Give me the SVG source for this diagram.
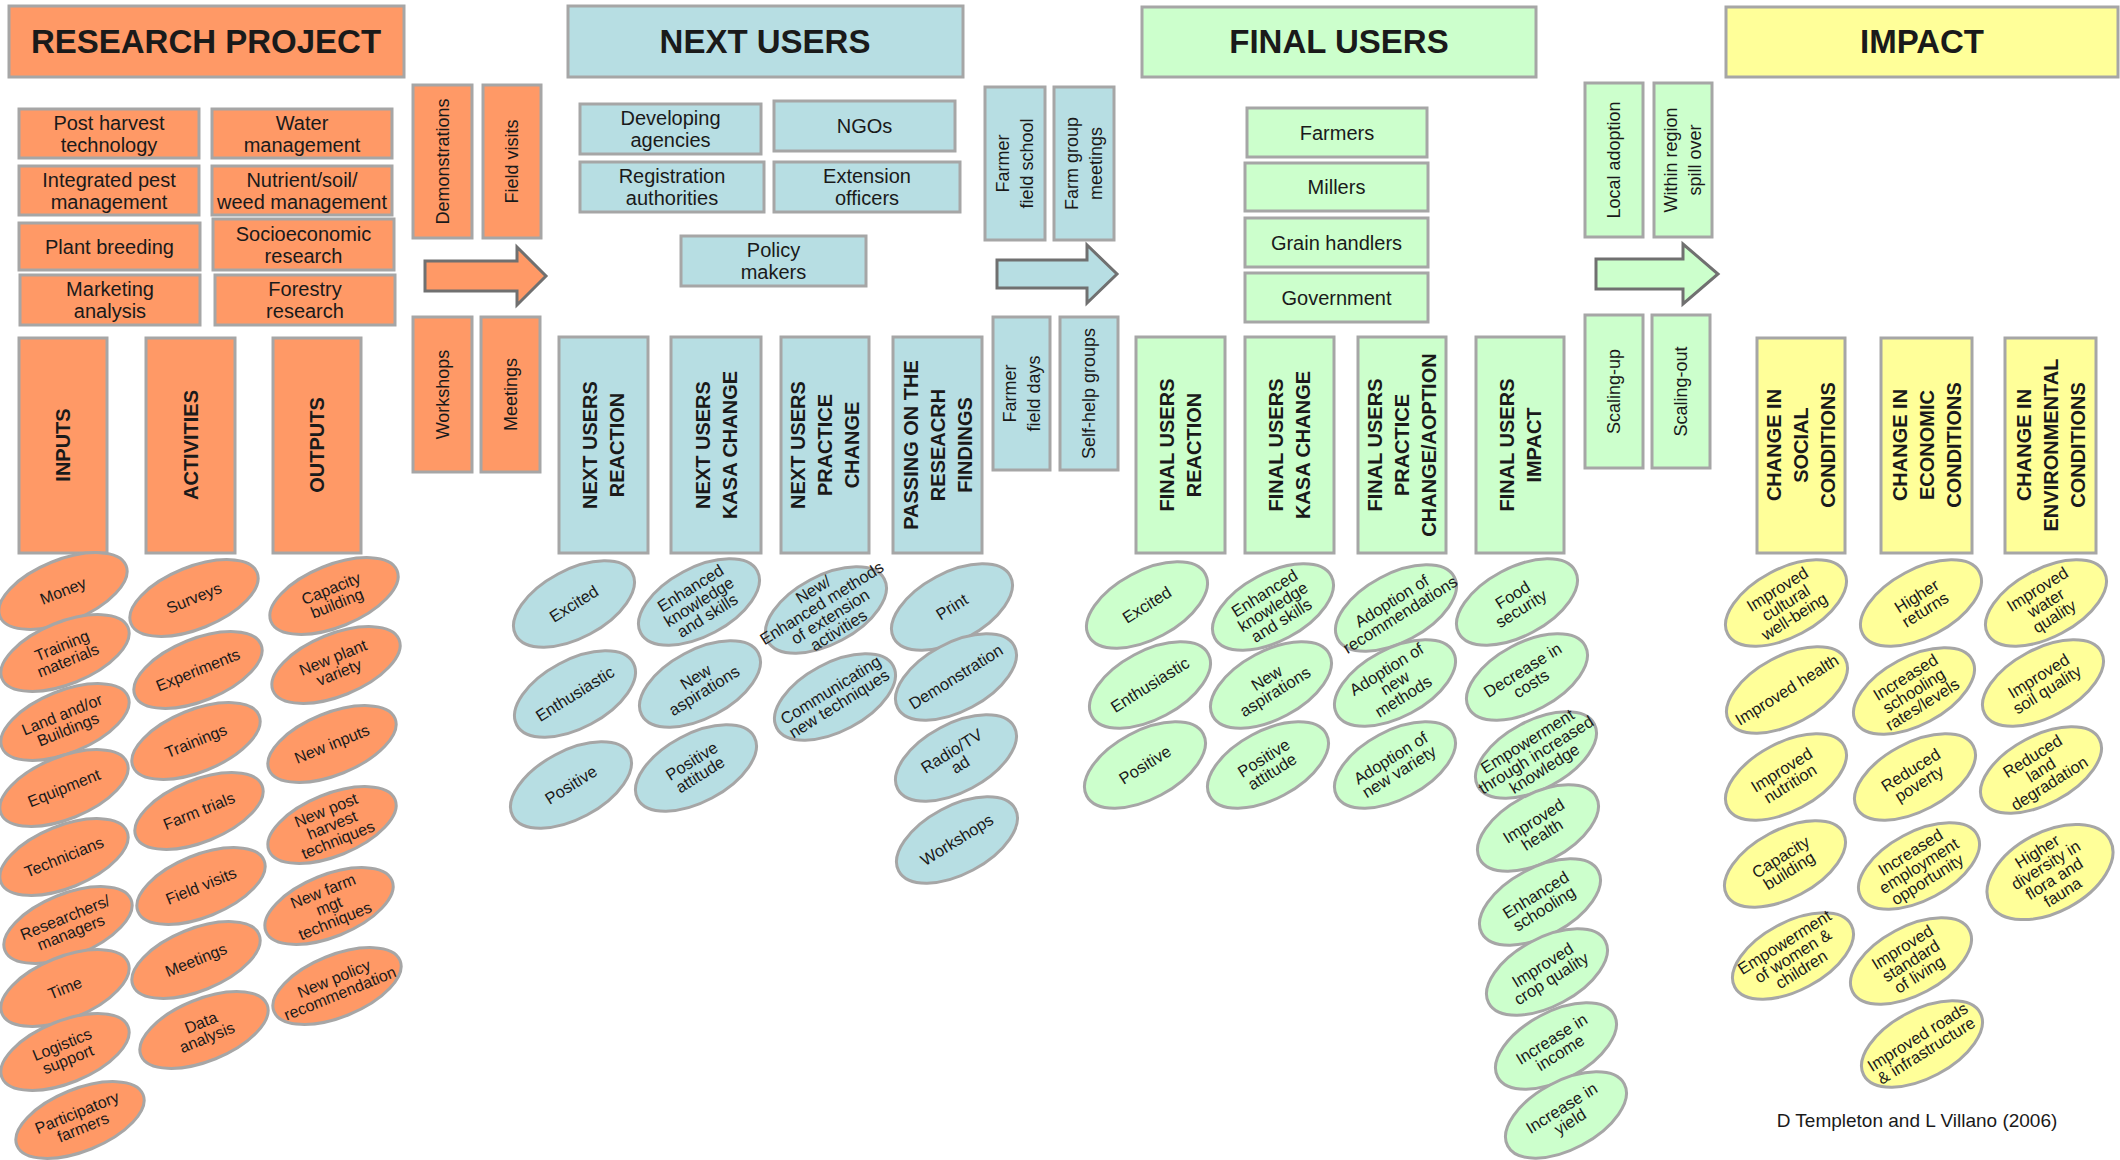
<svg xmlns="http://www.w3.org/2000/svg" width="2120" height="1160" viewBox="0 0 2120 1160">
<style>
.o{fill:#FF9966}.b{fill:#B7DEE3}.g{fill:#CCFFCC}.y{fill:#FFFF99}
rect,ellipse{stroke:#A6A6A6;stroke-width:3}
text{font-family:"Liberation Sans",Arial,sans-serif;fill:#1A1A1A;text-anchor:middle}
.h{font-size:33px;font-weight:bold}
.s{font-size:20px}
.v{font-size:18px}
.V{font-size:20px;font-weight:bold}
.e{font-size:16px}
.f{font-size:16.5px}
.arr{stroke:#707070;stroke-width:3}
</style>

<!-- Headers -->
<g id="h-research"><rect class="o" x="9" y="6" width="395" height="71"/><text class="h" x="206" y="53">RESEARCH PROJECT</text></g>
<g id="h-next"><rect class="b" x="568" y="6" width="395" height="71"/><text class="h" x="765" y="53">NEXT USERS</text></g>
<g id="h-final"><rect class="g" x="1142" y="7" width="394" height="70"/><text class="h" x="1339" y="53">FINAL USERS</text></g>
<g id="h-impact"><rect class="y" x="1726" y="7" width="392" height="70"/><text class="h" x="1922" y="53">IMPACT</text></g>

<!-- Research project small boxes -->
<g id="rp1"><rect class="o" x="19" y="109" width="180" height="49"/><text class="s"><tspan x="109" y="129.5">Post harvest</tspan><tspan x="109" y="151.5">technology</tspan></text></g>
<g id="rp2"><rect class="o" x="212" y="109" width="180" height="49"/><text class="s"><tspan x="302" y="129.5">Water</tspan><tspan x="302" y="151.5">management</tspan></text></g>
<g id="rp3"><rect class="o" x="19" y="166" width="180" height="49"/><text class="s"><tspan x="109" y="186.5">Integrated pest</tspan><tspan x="109" y="208.5">management</tspan></text></g>
<g id="rp4"><rect class="o" x="212" y="166" width="180" height="49"/><text class="s"><tspan x="302" y="186.5">Nutrient/soil/</tspan><tspan x="302" y="208.5">weed management</tspan></text></g>
<g id="rp5"><rect class="o" x="19" y="223" width="181" height="47"/><text class="s" x="109.5" y="253.5">Plant breeding</text></g>
<g id="rp6"><rect class="o" x="213" y="219" width="181" height="51"/><text class="s"><tspan x="303.5" y="240.5">Socioeconomic</tspan><tspan x="303.5" y="262.5">research</tspan></text></g>
<g id="rp7"><rect class="o" x="20" y="275" width="180" height="50"/><text class="s"><tspan x="110" y="296">Marketing</tspan><tspan x="110" y="318">analysis</tspan></text></g>
<g id="rp8"><rect class="o" x="215" y="275" width="180" height="50"/><text class="s"><tspan x="305" y="296">Forestry</tspan><tspan x="305" y="318">research</tspan></text></g>

<!-- Orange vertical pathway boxes -->
<g id="ov1"><rect class="o" x="413" y="85" width="59" height="153"/><text class="v" transform="translate(442.5 161.5) rotate(-90)" y="6">Demonstrations</text></g>
<g id="ov2"><rect class="o" x="483" y="85" width="58" height="153"/><text class="v" transform="translate(512 161.5) rotate(-90)" y="6">Field visits</text></g>
<g id="ov3"><rect class="o" x="413" y="317" width="59" height="155"/><text class="v" transform="translate(442.5 394.5) rotate(-90)" y="6">Workshops</text></g>
<g id="ov4"><rect class="o" x="481" y="317" width="59" height="155"/><text class="v" transform="translate(510.5 394.5) rotate(-90)" y="6">Meetings</text></g>

<!-- Next users small boxes -->
<g id="nu1"><rect class="b" x="580" y="104" width="181" height="50"/><text class="s"><tspan x="670.5" y="125">Developing</tspan><tspan x="670.5" y="147">agencies</tspan></text></g>
<g id="nu2"><rect class="b" x="774" y="101" width="181" height="50"/><text class="s" x="864.5" y="133">NGOs</text></g>
<g id="nu3"><rect class="b" x="580" y="162" width="184" height="50"/><text class="s"><tspan x="672" y="183">Registration</tspan><tspan x="672" y="205">authorities</tspan></text></g>
<g id="nu4"><rect class="b" x="774" y="162" width="186" height="50"/><text class="s"><tspan x="867" y="183">Extension</tspan><tspan x="867" y="205">officers</tspan></text></g>
<g id="nu5"><rect class="b" x="681" y="236" width="185" height="50"/><text class="s"><tspan x="773.5" y="257">Policy</tspan><tspan x="773.5" y="279">makers</tspan></text></g>

<!-- Blue vertical pathway boxes -->
<g id="bv1"><rect class="b" x="985" y="87" width="60" height="153"/><text class="v" transform="translate(1015 163.5) rotate(-90)"><tspan x="0" y="-6">Farmer</tspan><tspan x="0" y="18">field school</tspan></text></g>
<g id="bv2"><rect class="b" x="1054" y="87" width="60" height="153"/><text class="v" transform="translate(1084 163.5) rotate(-90)"><tspan x="0" y="-6">Farm group</tspan><tspan x="0" y="18">meetings</tspan></text></g>
<g id="bv3"><rect class="b" x="993" y="317" width="57" height="153"/><text class="v" transform="translate(1021.5 393.5) rotate(-90)"><tspan x="0" y="-6">Farmer</tspan><tspan x="0" y="18">field days</tspan></text></g>
<g id="bv4"><rect class="b" x="1060" y="317" width="58" height="153"/><text class="v" transform="translate(1089 393.5) rotate(-90)" y="6">Self-help groups</text></g>

<!-- Final users small boxes -->
<g id="fu1"><rect class="g" x="1247" y="108" width="180" height="49"/><text class="s" x="1337" y="139.5">Farmers</text></g>
<g id="fu2"><rect class="g" x="1245" y="163" width="183" height="48"/><text class="s" x="1336.5" y="194">Millers</text></g>
<g id="fu3"><rect class="g" x="1245" y="218" width="183" height="49"/><text class="s" x="1336.5" y="249.5">Grain handlers</text></g>
<g id="fu4"><rect class="g" x="1245" y="273" width="183" height="49"/><text class="s" x="1336.5" y="304.5">Government</text></g>

<!-- Green vertical pathway boxes -->
<g id="gv1"><rect class="g" x="1585" y="83" width="58" height="154"/><text class="v" transform="translate(1614 160) rotate(-90)" y="6">Local adoption</text></g>
<g id="gv2"><rect class="g" x="1654" y="83" width="58" height="154"/><text class="v" transform="translate(1683 160) rotate(-90)"><tspan x="0" y="-6">Within region</tspan><tspan x="0" y="18">spill over</tspan></text></g>
<g id="gv3"><rect class="g" x="1585" y="315" width="58" height="153"/><text class="v" transform="translate(1614 391.5) rotate(-90)" y="6">Scaling-up</text></g>
<g id="gv4"><rect class="g" x="1652" y="315" width="58" height="153"/><text class="v" transform="translate(1681 391.5) rotate(-90)" y="6">Scaling-out</text></g>

<!-- Big vertical category boxes -->
<g id="c-inputs"><rect class="o" x="19" y="338" width="88" height="215"/><text class="V" transform="translate(63 445) rotate(-90)" y="7">INPUTS</text></g>
<g id="c-activities"><rect class="o" x="146" y="338" width="89" height="215"/><text class="V" transform="translate(190.5 445) rotate(-90)" y="7">ACTIVITIES</text></g>
<g id="c-outputs"><rect class="o" x="273" y="338" width="88" height="215"/><text class="V" transform="translate(317 445) rotate(-90)" y="7">OUTPUTS</text></g>

<g id="c-nu-reaction"><rect class="b" x="559" y="337" width="89" height="216"/><text class="V" transform="translate(603.5 445) rotate(-90)"><tspan x="0" y="-6.5">NEXT USERS</tspan><tspan x="0" y="20.5">REACTION</tspan></text></g>
<g id="c-nu-kasa"><rect class="b" x="671" y="337" width="90" height="216"/><text class="V" transform="translate(716 445) rotate(-90)"><tspan x="0" y="-6.5">NEXT USERS</tspan><tspan x="0" y="20.5">KASA CHANGE</tspan></text></g>
<g id="c-nu-practice"><rect class="b" x="781" y="337" width="88" height="216"/><text class="V" transform="translate(825 445) rotate(-90)"><tspan x="0" y="-20">NEXT USERS</tspan><tspan x="0" y="7">PRACTICE</tspan><tspan x="0" y="34">CHANGE</tspan></text></g>
<g id="c-nu-passing"><rect class="b" x="893" y="337" width="89" height="216"/><text class="V" transform="translate(937.5 445) rotate(-90)"><tspan x="0" y="-20">PASSING ON THE</tspan><tspan x="0" y="7">RESEACRH</tspan><tspan x="0" y="34">FINDINGS</tspan></text></g>

<g id="c-fu-reaction"><rect class="g" x="1136" y="337" width="89" height="216"/><text class="V" transform="translate(1180.5 445) rotate(-90)"><tspan x="0" y="-6.5">FINAL USERS</tspan><tspan x="0" y="20.5">REACTION</tspan></text></g>
<g id="c-fu-kasa"><rect class="g" x="1245" y="337" width="89" height="216"/><text class="V" transform="translate(1289.5 445) rotate(-90)"><tspan x="0" y="-6.5">FINAL USERS</tspan><tspan x="0" y="20.5">KASA CHANGE</tspan></text></g>
<g id="c-fu-practice"><rect class="g" x="1358" y="337" width="88" height="216"/><text class="V" transform="translate(1402 445) rotate(-90)"><tspan x="0" y="-20">FINAL USERS</tspan><tspan x="0" y="7">PRACTICE</tspan><tspan x="0" y="34">CHANGE/AOPTION</tspan></text></g>
<g id="c-fu-impact"><rect class="g" x="1476" y="337" width="88" height="216"/><text class="V" transform="translate(1520 445) rotate(-90)"><tspan x="0" y="-6.5">FINAL USERS</tspan><tspan x="0" y="20.5">IMPACT</tspan></text></g>

<g id="c-social"><rect class="y" x="1757" y="338" width="88" height="215"/><text class="V" transform="translate(1801 445) rotate(-90)"><tspan x="0" y="-20">CHANGE IN</tspan><tspan x="0" y="7">SOCIAL</tspan><tspan x="0" y="34">CONDITIONS</tspan></text></g>
<g id="c-economic"><rect class="y" x="1881" y="338" width="91" height="215"/><text class="V" transform="translate(1926.5 445) rotate(-90)"><tspan x="0" y="-20">CHANGE IN</tspan><tspan x="0" y="7">ECONOMIC</tspan><tspan x="0" y="34">CONDITIONS</tspan></text></g>
<g id="c-environmental"><rect class="y" x="2005" y="338" width="91" height="215"/><text class="V" transform="translate(2050.5 445) rotate(-90)"><tspan x="0" y="-20">CHANGE IN</tspan><tspan x="0" y="7">ENVIRONMENTAL</tspan><tspan x="0" y="34">CONDITIONS</tspan></text></g>

<!-- Orange ellipses: inputs -->
<g id="in1" transform="translate(63 591) rotate(-22)"><ellipse class="o" rx="68" ry="31"/><text class="e" y="5.5">Money</text></g>
<g id="in2" transform="translate(65 653) rotate(-22)"><ellipse class="o" rx="68" ry="31"/><text class="e"><tspan x="0" y="-2.5">Training</tspan><tspan x="0" y="13.5">materials</tspan></text></g>
<g id="in3" transform="translate(65 722) rotate(-22)"><ellipse class="o" rx="68" ry="31"/><text class="e"><tspan x="0" y="-2.5">Land and/or</tspan><tspan x="0" y="13.5">Buildings</tspan></text></g>
<g id="in4" transform="translate(64 788) rotate(-22)"><ellipse class="o" rx="68" ry="31"/><text class="e" y="5.5">Equipment</text></g>
<g id="in5" transform="translate(64 857) rotate(-22)"><ellipse class="o" rx="68" ry="31"/><text class="e" y="5.5">Technicians</text></g>
<g id="in6" transform="translate(68 925) rotate(-22)"><ellipse class="o" rx="68" ry="31"/><text class="e"><tspan x="0" y="-2.5">Researchers/</tspan><tspan x="0" y="13.5">managers</tspan></text></g>
<g id="in7" transform="translate(65 988) rotate(-22)"><ellipse class="o" rx="68" ry="31"/><text class="e" y="5.5">Time</text></g>
<g id="in8" transform="translate(65 1052) rotate(-22)"><ellipse class="o" rx="68" ry="31"/><text class="e"><tspan x="0" y="-2.5">Logistics</tspan><tspan x="0" y="13.5">support</tspan></text></g>
<g id="in9" transform="translate(80 1120) rotate(-22)"><ellipse class="o" rx="68" ry="31"/><text class="e"><tspan x="0" y="-2.5">Participatory</tspan><tspan x="0" y="13.5">farmers</tspan></text></g>

<!-- Orange ellipses: activities -->
<g id="ac1" transform="translate(194 598) rotate(-22)"><ellipse class="o" rx="68" ry="31"/><text class="e" y="5.5">Surveys</text></g>
<g id="ac2" transform="translate(198 670) rotate(-22)"><ellipse class="o" rx="68" ry="31"/><text class="e" y="5.5">Experiments</text></g>
<g id="ac3" transform="translate(196 741) rotate(-22)"><ellipse class="o" rx="68" ry="31"/><text class="e" y="5.5">Trainings</text></g>
<g id="ac4" transform="translate(199 811) rotate(-22)"><ellipse class="o" rx="68" ry="31"/><text class="e" y="5.5">Farm trials</text></g>
<g id="ac5" transform="translate(201 886) rotate(-22)"><ellipse class="o" rx="68" ry="31"/><text class="e" y="5.5">Field visits</text></g>
<g id="ac6" transform="translate(196 960) rotate(-22)"><ellipse class="o" rx="68" ry="31"/><text class="e" y="5.5">Meetings</text></g>
<g id="ac7" transform="translate(204 1030) rotate(-22)"><ellipse class="o" rx="68" ry="31"/><text class="e"><tspan x="0" y="-2.5">Data</tspan><tspan x="0" y="13.5">analysis</tspan></text></g>

<!-- Orange ellipses: outputs -->
<g id="ou1" transform="translate(334 596) rotate(-22)"><ellipse class="o" rx="68" ry="31"/><text class="e"><tspan x="0" y="-2.5">Capacity</tspan><tspan x="0" y="13.5">building</tspan></text></g>
<g id="ou2" transform="translate(336 665) rotate(-22)"><ellipse class="o" rx="68" ry="31"/><text class="e"><tspan x="0" y="-2.5">New plant</tspan><tspan x="0" y="13.5">variety</tspan></text></g>
<g id="ou3" transform="translate(332 744) rotate(-22)"><ellipse class="o" rx="68" ry="31"/><text class="e" y="5.5">New inputs</text></g>
<g id="ou4" transform="translate(332 825) rotate(-22)"><ellipse class="o" rx="68" ry="31"/><text class="e"><tspan x="0" y="-10.5">New post</tspan><tspan x="0" y="5.5">harvest</tspan><tspan x="0" y="21.5">techniques</tspan></text></g>
<g id="ou5" transform="translate(329 906) rotate(-22)"><ellipse class="o" rx="68" ry="31"/><text class="e"><tspan x="0" y="-10.5">New farm</tspan><tspan x="0" y="5.5">mgt</tspan><tspan x="0" y="21.5">techniques</tspan></text></g>
<g id="ou6" transform="translate(337 986) rotate(-22)"><ellipse class="o" rx="68" ry="31"/><text class="e"><tspan x="0" y="-2.5">New policy</tspan><tspan x="0" y="13.5">recommendation</tspan></text></g>

<!-- Blue ellipses -->
<g id="nr1" transform="translate(574 604) rotate(-28)"><ellipse class="b" rx="66" ry="34"/><text class="f" transform="rotate(-4)" y="5.5">Excited</text></g>
<g id="nr2" transform="translate(575 694) rotate(-28)"><ellipse class="b" rx="66" ry="34"/><text class="f" transform="rotate(-4)" y="5.5">Enthusiastic</text></g>
<g id="nr3" transform="translate(571 785) rotate(-28)"><ellipse class="b" rx="66" ry="34"/><text class="f" transform="rotate(-4)" y="5.5">Positive</text></g>
<g id="nk1" transform="translate(699 602) rotate(-28)"><ellipse class="b" rx="66" ry="34"/><text class="f" transform="rotate(-4)"><tspan x="0" y="-10.5">Enhanced</tspan><tspan x="0" y="5.5">knowledge</tspan><tspan x="0" y="21.5">and skills</tspan></text></g>
<g id="nk2" transform="translate(700 684) rotate(-28)"><ellipse class="b" rx="66" ry="34"/><text class="f" transform="rotate(-4)"><tspan x="0" y="-2.5">New</tspan><tspan x="0" y="13.5">aspirations</tspan></text></g>
<g id="nk3" transform="translate(696 768) rotate(-28)"><ellipse class="b" rx="66" ry="34"/><text class="f" transform="rotate(-4)"><tspan x="0" y="-2.5">Positive</tspan><tspan x="0" y="13.5">attitude</tspan></text></g>
<g id="np1" transform="translate(826 610) rotate(-28)"><ellipse class="b" rx="66" ry="34"/><text class="f" transform="rotate(-4)"><tspan x="0" y="-18.5">New/</tspan><tspan x="0" y="-2.5">Enhanced methods</tspan><tspan x="0" y="13.5">of extension</tspan><tspan x="0" y="29.5">activities</tspan></text></g>
<g id="np2" transform="translate(835 697) rotate(-28)"><ellipse class="b" rx="66" ry="34"/><text class="f" transform="rotate(-4)"><tspan x="0" y="-2.5">Communicating</tspan><tspan x="0" y="13.5">new techniques</tspan></text></g>
<g id="nf1" transform="translate(952 607) rotate(-28)"><ellipse class="b" rx="66" ry="34"/><text class="f" transform="rotate(-4)" y="5.5">Print</text></g>
<g id="nf2" transform="translate(956 677) rotate(-28)"><ellipse class="b" rx="66" ry="34"/><text class="f" transform="rotate(-4)" y="5.5">Demonstration</text></g>
<g id="nf3" transform="translate(956 758) rotate(-28)"><ellipse class="b" rx="66" ry="34"/><text class="f" transform="rotate(-4)"><tspan x="0" y="-2.5">Radio/TV</tspan><tspan x="0" y="13.5">ad</tspan></text></g>
<g id="nf4" transform="translate(957 840) rotate(-28)"><ellipse class="b" rx="66" ry="34"/><text class="f" transform="rotate(-4)" y="5.5">Workshops</text></g>

<!-- Green ellipses -->
<g id="fr1" transform="translate(1147 605) rotate(-28)"><ellipse class="g" rx="66" ry="34"/><text class="f" transform="rotate(-4)" y="5.5">Excited</text></g>
<g id="fr2" transform="translate(1150 685) rotate(-28)"><ellipse class="g" rx="66" ry="34"/><text class="f" transform="rotate(-4)" y="5.5">Enthusiastic</text></g>
<g id="fr3" transform="translate(1145 765) rotate(-28)"><ellipse class="g" rx="66" ry="34"/><text class="f" transform="rotate(-4)" y="5.5">Positive</text></g>
<g id="fk1" transform="translate(1273 607) rotate(-28)"><ellipse class="g" rx="66" ry="34"/><text class="f" transform="rotate(-4)"><tspan x="0" y="-10.5">Enhanced</tspan><tspan x="0" y="5.5">knowledge</tspan><tspan x="0" y="21.5">and skills</tspan></text></g>
<g id="fk2" transform="translate(1271 685) rotate(-28)"><ellipse class="g" rx="66" ry="34"/><text class="f" transform="rotate(-4)"><tspan x="0" y="-2.5">New</tspan><tspan x="0" y="13.5">aspirations</tspan></text></g>
<g id="fk3" transform="translate(1268 765) rotate(-28)"><ellipse class="g" rx="66" ry="34"/><text class="f" transform="rotate(-4)"><tspan x="0" y="-2.5">Positive</tspan><tspan x="0" y="13.5">attitude</tspan></text></g>
<g id="fp1" transform="translate(1396 608) rotate(-28)"><ellipse class="g" rx="66" ry="34"/><text class="f" transform="rotate(-4)"><tspan x="0" y="-2.5">Adoption of</tspan><tspan x="0" y="13.5">recommendations</tspan></text></g>
<g id="fp2" transform="translate(1395 683) rotate(-28)"><ellipse class="g" rx="66" ry="34"/><text class="f" transform="rotate(-4)"><tspan x="0" y="-10.5">Adoption of</tspan><tspan x="0" y="5.5">new</tspan><tspan x="0" y="21.5">methods</tspan></text></g>
<g id="fp3" transform="translate(1395 765) rotate(-28)"><ellipse class="g" rx="66" ry="34"/><text class="f" transform="rotate(-4)"><tspan x="0" y="-2.5">Adoption of</tspan><tspan x="0" y="13.5">new variety</tspan></text></g>
<g id="fi1" transform="translate(1517 602) rotate(-28)"><ellipse class="g" rx="66" ry="34"/><text class="f" transform="rotate(-4)"><tspan x="0" y="-2.5">Food</tspan><tspan x="0" y="13.5">security</tspan></text></g>
<g id="fi2" transform="translate(1527 677) rotate(-28)"><ellipse class="g" rx="66" ry="34"/><text class="f" transform="rotate(-4)"><tspan x="0" y="-2.5">Decrease in</tspan><tspan x="0" y="13.5">costs</tspan></text></g>
<g id="fi3" transform="translate(1536 755) rotate(-28)"><ellipse class="g" rx="66" ry="34"/><text class="f" transform="rotate(-4)"><tspan x="0" y="-10.5">Empowerment</tspan><tspan x="0" y="5.5">through increased</tspan><tspan x="0" y="21.5">knowledge</tspan></text></g>
<g id="fi4" transform="translate(1538 828) rotate(-28)"><ellipse class="g" rx="66" ry="34"/><text class="f" transform="rotate(-4)"><tspan x="0" y="-2.5">Improved</tspan><tspan x="0" y="13.5">health</tspan></text></g>
<g id="fi5" transform="translate(1540 902) rotate(-28)"><ellipse class="g" rx="66" ry="34"/><text class="f" transform="rotate(-4)"><tspan x="0" y="-2.5">Enhanced</tspan><tspan x="0" y="13.5">schooling</tspan></text></g>
<g id="fi6" transform="translate(1547 972) rotate(-28)"><ellipse class="g" rx="66" ry="34"/><text class="f" transform="rotate(-4)"><tspan x="0" y="-2.5">Improved</tspan><tspan x="0" y="13.5">crop quality</tspan></text></g>
<g id="fi7" transform="translate(1556 1046) rotate(-28)"><ellipse class="g" rx="66" ry="34"/><text class="f" transform="rotate(-4)"><tspan x="0" y="-2.5">Increase in</tspan><tspan x="0" y="13.5">income</tspan></text></g>
<g id="fi8" transform="translate(1566 1115) rotate(-28)"><ellipse class="g" rx="66" ry="34"/><text class="f" transform="rotate(-4)"><tspan x="0" y="-2.5">Increase in</tspan><tspan x="0" y="13.5">yield</tspan></text></g>

<!-- Yellow ellipses -->
<g id="sc1" transform="translate(1786 603) rotate(-28)"><ellipse class="y" rx="66" ry="34"/><text class="f" transform="rotate(-4)"><tspan x="0" y="-10.5">Improved</tspan><tspan x="0" y="5.5">cultural</tspan><tspan x="0" y="21.5">well-being</tspan></text></g>
<g id="sc2" transform="translate(1787 690) rotate(-28)"><ellipse class="y" rx="66" ry="34"/><text class="f" transform="rotate(-4)" y="5.5">Improved health</text></g>
<g id="sc3" transform="translate(1786 777) rotate(-28)"><ellipse class="y" rx="66" ry="34"/><text class="f" transform="rotate(-4)"><tspan x="0" y="-2.5">Improved</tspan><tspan x="0" y="13.5">nutrition</tspan></text></g>
<g id="sc4" transform="translate(1785 864) rotate(-28)"><ellipse class="y" rx="66" ry="34"/><text class="f" transform="rotate(-4)"><tspan x="0" y="-2.5">Capacity</tspan><tspan x="0" y="13.5">building</tspan></text></g>
<g id="sc5" transform="translate(1793 956) rotate(-28)"><ellipse class="y" rx="66" ry="34"/><text class="f" transform="rotate(-4)"><tspan x="0" y="-10.5">Empowerment</tspan><tspan x="0" y="5.5">of women &amp;</tspan><tspan x="0" y="21.5">children</tspan></text></g>
<g id="ec1" transform="translate(1921 603) rotate(-28)"><ellipse class="y" rx="66" ry="34"/><text class="f" transform="rotate(-4)"><tspan x="0" y="-2.5">Higher</tspan><tspan x="0" y="13.5">returns</tspan></text></g>
<g id="ec2" transform="translate(1914 691) rotate(-28)"><ellipse class="y" rx="66" ry="34"/><text class="f" transform="rotate(-4)"><tspan x="0" y="-10.5">Increased</tspan><tspan x="0" y="5.5">schooling</tspan><tspan x="0" y="21.5">rates/levels</tspan></text></g>
<g id="ec3" transform="translate(1915 777) rotate(-28)"><ellipse class="y" rx="66" ry="34"/><text class="f" transform="rotate(-4)"><tspan x="0" y="-2.5">Reduced</tspan><tspan x="0" y="13.5">poverty</tspan></text></g>
<g id="ec4" transform="translate(1919 866) rotate(-28)"><ellipse class="y" rx="66" ry="34"/><text class="f" transform="rotate(-4)"><tspan x="0" y="-10.5">Increased</tspan><tspan x="0" y="5.5">employment</tspan><tspan x="0" y="21.5">opportunity</tspan></text></g>
<g id="ec5" transform="translate(1911 961) rotate(-28)"><ellipse class="y" rx="66" ry="34"/><text class="f" transform="rotate(-4)"><tspan x="0" y="-10.5">Improved</tspan><tspan x="0" y="5.5">standard</tspan><tspan x="0" y="21.5">of living</tspan></text></g>
<g id="ec6" transform="translate(1922 1044) rotate(-28)"><ellipse class="y" rx="66" ry="34"/><text class="f" transform="rotate(-4)"><tspan x="0" y="-2.5">Improved roads</tspan><tspan x="0" y="13.5">&amp; infrastructure</tspan></text></g>
<g id="en1" transform="translate(2046 603) rotate(-28)"><ellipse class="y" rx="66" ry="34"/><text class="f" transform="rotate(-4)"><tspan x="0" y="-10.5">Improved</tspan><tspan x="0" y="5.5">water</tspan><tspan x="0" y="21.5">quality</tspan></text></g>
<g id="en2" transform="translate(2043 683) rotate(-28)"><ellipse class="y" rx="66" ry="34"/><text class="f" transform="rotate(-4)"><tspan x="0" y="-2.5">Improved</tspan><tspan x="0" y="13.5">soil quality</tspan></text></g>
<g id="en3" transform="translate(2041 770) rotate(-28)"><ellipse class="y" rx="66" ry="34"/><text class="f" transform="rotate(-4)"><tspan x="0" y="-10.5">Reduced</tspan><tspan x="0" y="5.5">land</tspan><tspan x="0" y="21.5">degradation</tspan></text></g>
<g id="en4" transform="translate(2050 872) rotate(-28)"><ellipse class="y" rx="68" ry="40"/><text class="f" transform="rotate(-4)"><tspan x="0" y="-18.5">Higher</tspan><tspan x="0" y="-2.5">diversity in</tspan><tspan x="0" y="13.5">flora and</tspan><tspan x="0" y="29.5">fauna</tspan></text></g>

<!-- Connectors: block arrows -->
<g id="connectors">
<polygon class="o arr" points="425,261 517,261 517,247 546,276 517,305 517,291 425,291"/>
<polygon class="b arr" points="997,260 1087,260 1087,245 1117,274 1087,303 1087,288 997,288"/>
<polygon class="g arr" points="1596,259 1683,259 1683,244 1718,274 1683,304 1683,289 1596,289"/>
</g>

<text id="credit" x="1917" y="1127" style="font-size:19px">D Templeton and L Villano (2006)</text>
</svg>
